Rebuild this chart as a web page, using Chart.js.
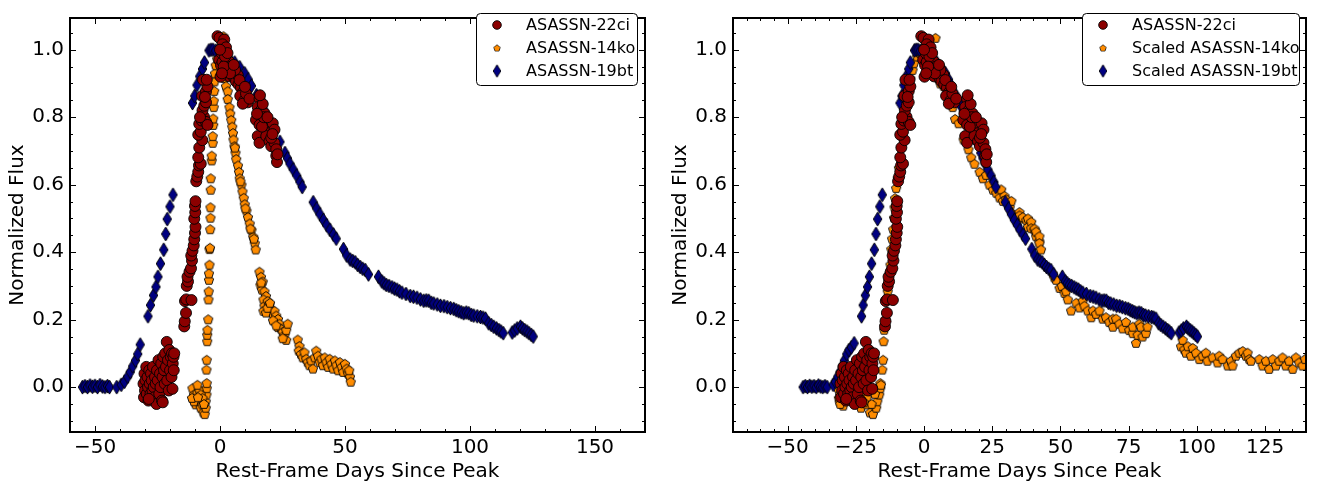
<!DOCTYPE html>
<html>
<head>
<meta charset="utf-8">
<script src="https://cdn.jsdelivr.net/npm/chart.js@4.4.1/dist/chart.umd.min.js"></script>
<style>
  html, body { margin: 0; padding: 0; background: #fff; }
  #wrap { position: relative; width: 1317px; height: 485px; }
  canvas { position: absolute; top: 0; }
  #chart1 { left: 0; }
  #chart2 { left: 660px; }
</style>
</head>
<body>
<div id="wrap">
  <canvas id="chart1" width="660" height="485"></canvas>
  <canvas id="chart2" width="657" height="485"></canvas>
</div>
<script>
// ASASSN-22ci (same in both panels) [rest-frame day, normalized flux]
const ci22 = [
  [-30.6,0.01],[-30.4,-0.03],[-30.2,0.04],[-30.0,-0.01],[-29.8,0.02],[-29.5,0.06],[-29.3,-0.02],[-29.0,0.03],
  [-28.8,0.0],[-28.6,-0.04],[-28.3,0.05],[-28.1,0.01],[-27.8,-0.02],[-27.6,0.04],[-27.3,0.02],[-27.0,-0.01],
  [-26.8,0.06],[-26.5,0.0],[-26.2,-0.03],[-26.0,0.03],[-25.7,0.01],[-25.4,-0.05],[-25.2,0.05],[-24.9,0.02],
  [-24.6,0.08],[-24.3,-0.02],[-24.0,0.04],[-23.8,0.0],[-23.5,0.07],[-23.2,-0.04],[-23.0,0.03],[-22.7,0.09],
  [-22.4,0.05],[-22.1,0.01],[-21.9,0.1],[-21.6,0.06],[-21.3,0.134],[-21.1,0.02],[-20.8,0.08],[-20.5,-0.01],
  [-20.3,0.11],[-20.0,0.05],[-19.7,0.09],[-19.4,0.03],[-19.2,0.1],[-18.9,0.07],[-18.6,0.09],[-18.3,0.1],
  [-18.5,0.05],[-19.0,-0.005],[-22.9,-0.045],[-28.5,-0.035],
  [-14.3,0.18],[-14.1,0.195],[-13.6,0.22],[-14.0,0.255],[-13.5,0.26],[-11.4,0.258],[-13.3,0.30],[-12.8,0.313],
  [-13.0,0.327],[-12.2,0.342],[-11.6,0.352],[-11.2,0.375],[-11.5,0.39],[-11.0,0.404],[-10.5,0.42],[-10.3,0.438],
  [-10.0,0.457],[-9.8,0.475],[-10.3,0.499],[-9.9,0.518],[-10.0,0.537],[-9.8,0.551],[-9.5,0.61],[-9.1,0.624],
  [-8.7,0.638],[-8.4,0.657],[-7.7,0.662],[-8.7,0.681],[-8.3,0.71],[-7.1,0.732],[-8.7,0.748],[-7.7,0.757],
  [-8.3,0.78],[-7.3,0.79],[-6.4,0.801],[-5.6,0.786],[-5.0,0.777],[-7.0,0.82],[-6.3,0.834],[-5.6,0.844],
  [-7.2,0.863],[-5.6,0.877],[-5.0,0.891],[-6.8,0.911],[-5.3,0.911],[-6.0,0.86],[-8.0,0.80],
  [-1.0,1.04],[-0.2,1.035],[1.7,1.03],[1.0,1.016],[2.4,1.007],[-0.3,0.97],[0.4,0.954],[1.0,0.964],
  [0.6,0.99],[2.4,0.959],[3.1,0.945],[3.7,0.964],[4.4,0.95],[5.1,0.935],[3.7,0.921],[5.7,0.916],
  [6.4,0.906],[7.1,0.925],[7.4,0.897],[8.4,0.887],[9.1,0.873],[8.1,0.863],[9.7,0.849],[11.1,0.844],
  [9.1,0.84],[10.4,0.87],[6.0,0.94],[2.0,0.98],[4.0,0.93],[7.8,0.91],[1.5,0.95],[3.0,0.99],
  [10.0,0.89],[11.8,0.855],[5.5,0.955],[0.0,1.0],[0.2,0.92],[0.8,0.93],
  [15.8,0.854],[15.1,0.83],[16.4,0.82],[14.4,0.792],[15.8,0.777],[15.1,0.744],[15.8,0.724],[17.8,0.811],
  [18.5,0.792],[19.1,0.772],[19.8,0.753],[21.1,0.782],[21.8,0.763],[18.5,0.744],[19.8,0.729],[20.5,0.714],
  [21.8,0.724],[22.5,0.705],[22.5,0.686],[22.8,0.667],[17.1,0.839],[16.8,0.772],[20.5,0.739],[16.0,0.865],
  [17.5,0.8],[14.8,0.81],[19.0,0.8],[21.0,0.75],[23.0,0.69]
];

// ASASSN-14ko, left panel
const ko14Left = [
  [-11.0,-0.003],[-10.4,-0.022],[-9.7,-0.032],[-9.0,-0.017],[-8.3,-0.007],[-9.7,-0.051],[-8.3,-0.042],[-7.7,-0.061],
  [-7.0,-0.051],[-6.6,-0.075],[-6.1,-0.08],[-5.7,-0.061],[-5.7,-0.042],[-5.4,-0.022],[-5.3,-0.003],[-5.3,0.012],
  [-7.7,-0.022],[-10.4,-0.042],[-9.0,0.007],[-11.2,-0.032],[-7.0,-0.032],[-8.8,-0.03],[-6.4,-0.05],
  [-5.4,0.052],[-5.3,0.081],[-5.1,0.136],[-5.1,0.155],[-5.0,0.17],[-4.7,0.201],[-4.6,0.26],[-4.5,0.284],
  [-4.4,0.318],[-4.4,0.337],[-4.2,0.363],[-4.2,0.409],[-4.0,0.413],[-3.9,0.468],[-3.8,0.502],[-3.8,0.533],
  [-3.7,0.585],[-3.7,0.619],[-3.3,0.672],[-3.3,0.686],[-2.9,0.724],[-2.9,0.744],[-2.7,0.777],[-2.7,0.796],
  [-2.5,0.83],[-2.5,0.849],[-2.3,0.878],[-2.2,0.906],[-2.0,0.93],[-1.7,0.954],[-1.1,0.973],
  [1.0,0.94],[1.7,0.916],[2.4,0.892],[3.1,0.877],[3.1,0.854],[3.8,0.83],[4.1,0.811],[4.5,0.792],
  [4.9,0.772],[5.2,0.753],[5.4,0.734],[5.8,0.714],[6.2,0.695],[6.5,0.676],[7.2,0.657],[7.6,0.638],
  [7.9,0.619],[8.6,0.6],[9.0,0.58],[9.5,0.561],[9.9,0.542],[10.6,0.523],[11.2,0.504],[11.9,0.485],
  [12.6,0.466],[13.3,0.446],[13.9,0.427],[14.3,0.408],[0.3,0.96],[1.4,1.04],[2.0,0.93],[6.0,0.71],
  [8.2,0.61],[10.2,0.53],[12.2,0.47],[13.6,0.44],
  [15.8,0.342],[16.4,0.327],[17.1,0.313],[16.2,0.303],[16.8,0.289],[17.8,0.284],[18.4,0.27],[17.4,0.26],
  [17.8,0.241],[19.1,0.255],[19.8,0.246],[20.5,0.231],[21.2,0.217],[21.8,0.226],[22.5,0.212],[23.2,0.202],
  [23.8,0.188],[23.2,0.178],[24.5,0.173],[25.1,0.164],[25.8,0.154],[26.5,0.169],[27.1,0.188],[26.5,0.14],
  [25.1,0.145],[17.4,0.226],[18.4,0.221],[21.2,0.198],[22.5,0.183],[19.0,0.235],[20.0,0.25],[16.5,0.31],
  [31.1,0.141],[31.8,0.122],[31.5,0.108],[32.4,0.098],[33.1,0.088],[33.8,0.103],[34.5,0.084],[35.1,0.074],
  [35.8,0.065],[36.5,0.079],[37.2,0.055],[37.9,0.088],[38.5,0.108],[39.2,0.093],[39.9,0.074],[40.6,0.084],
  [41.2,0.065],[41.9,0.088],[42.6,0.074],[43.3,0.06],[43.9,0.084],[44.6,0.069],[45.3,0.055],[46.0,0.079],
  [46.6,0.065],[47.3,0.05],[48.0,0.074],[48.7,0.06],[49.3,0.045],[50.0,0.069],[50.7,0.055],[51.3,0.04],
  [52.0,0.031],[52.3,0.016],[51.7,0.05]
];

// ASASSN-19bt, left panel
const bt19Left = [
  [-55,0.0],[-54,0.003],[-53,0.0],[-52,0.005],[-51,0.001],[-50,0.004],[-49,0.0],[-48,0.006],
  [-47,0.002],[-46,0.0],[-45,0.003],[-44.2,0.0],
  [-41.3,0.0],[-39.5,0.007],[-38.2,0.016],[-36.9,0.031],[-35.9,0.045],[-34.9,0.062],[-33.8,0.079],[-32.9,0.098],[-31.9,0.126],
  [-28.8,0.21],[-27.8,0.243],[-26.6,0.272],[-25.6,0.297],[-24.8,0.327],[-23.8,0.366],[-22.5,0.407],[-21.7,0.454],
  [-21.1,0.498],[-20.0,0.535],[-18.8,0.57],
  [-11.0,0.842],[-10.1,0.863],[-9.2,0.895],[-8.1,0.921],[-7.0,0.943],[-6.2,0.962],[-4.4,0.998],[-3.6,1.0],[-2.8,1.0],[-1.7,0.997],
  [0.6,0.99],[1.9,0.983],[3.9,0.972],[5.9,0.962],[7.9,0.948],[9.9,0.93],[11.3,0.912],[12.6,0.893],[14.6,0.865],
  [16.6,0.836],[18.0,0.817],[20.0,0.789],[22.0,0.76],[24.0,0.727],[26.0,0.694],[27.0,0.678],[28.0,0.662],
  [29.3,0.645],[30.7,0.627],[32.0,0.608],[32.9,0.593],
  [37.3,0.548],[38.7,0.529],[40.0,0.512],[41.4,0.495],[42.7,0.48],[44.0,0.466],[45.4,0.452],[46.5,0.44],
  [49.4,0.409],[50.7,0.39],[52.1,0.378],[53.1,0.374],[54.1,0.37],[55.1,0.362],[56.1,0.356],[57.1,0.351],[58.1,0.347],[59.4,0.334],
  [63.4,0.327],[64.8,0.313],[65.6,0.308],[66.5,0.303],[67.6,0.3],[68.8,0.296],[69.8,0.292],[70.8,0.289],[71.8,0.284],[72.8,0.28],[74.4,0.276],
  [76.1,0.27],[77.4,0.268],[78.8,0.265],[80.2,0.26],[81.5,0.256],[82.5,0.257],[83.5,0.256],[84.5,0.25],[85.5,0.248],[86.9,0.245],[88.2,0.241],[89.6,0.24],[90.9,0.237],
  [92.2,0.234],[93.5,0.232],[94.5,0.228],[95.5,0.225],[96.5,0.222],[97.5,0.219],[98.5,0.221],[99.5,0.219],[100.5,0.214],[101.5,0.212],[102.9,0.21],[104.2,0.208],[105.2,0.206],[106.2,0.203],
  [107.5,0.189],[108.5,0.184],[109.5,0.179],[110.6,0.174],[111.6,0.169],[112.4,0.165],[113.3,0.16],
  [116.9,0.162],[117.9,0.168],[118.9,0.174],[120.2,0.179],[121.0,0.174],[121.9,0.169],[122.8,0.165],[123.6,0.16],[124.5,0.155],[125.3,0.15]
];

// Scaled ASASSN-14ko, right panel
const ko14Right = [
  [-31.5,-0.003],[-30.8,-0.022],[-29.1,-0.032],[-27.0,-0.017],[-24.9,-0.007],[-29.6,-0.055],[-24.9,-0.042],[-23.1,-0.061],
  [-21.0,-0.051],[-19.8,-0.075],[-18.7,-0.08],[-17.5,-0.061],[-17.1,-0.042],[-16.4,-0.022],[-16.0,-0.003],[-16.0,0.012],
  [-23.1,-0.022],[-30.9,-0.042],[-27.0,0.007],[-31.2,-0.032],[-21.0,-0.032],[-26.4,-0.03],[-19.2,-0.05],[-30.7,-0.05],
  [-22.0,-0.045],[-18.0,-0.02],
  [-15.8,0.007],[-15.3,0.052],[-15.0,0.081],[-14.8,0.136],[-14.6,0.17],[-14.1,0.201],[-13.6,0.26],[-13.3,0.284],
  [-12.9,0.318],[-12.6,0.337],[-12.3,0.363],[-12.0,0.409],[-11.7,0.44],[-11.3,0.468],[-11.0,0.502],[-10.8,0.533],
  [-10.6,0.56],[-10.2,0.59],[-9.6,0.62],[-9.2,0.65],[-8.8,0.68],[-8.4,0.71],[-8.0,0.744],[-7.6,0.777],
  [-7.2,0.8],[-6.8,0.83],[-6.3,0.86],[-5.6,0.89],[-5.0,0.915],[-4.2,0.94],[-3.7,0.96],[-2.5,0.98],[-1.5,0.99],
  [0.5,0.97],[1.5,0.955],[3.0,0.94],[4.2,1.035],[5.1,0.916],[6.0,0.9],[7.2,0.892],[8.5,0.87],
  [9.3,0.854],[10.5,0.83],[11.4,0.795],[12.7,0.782],[14.5,0.734],[16.3,0.705],[17.3,0.681],[18.5,0.662],
  [20.4,0.638],[21.6,0.619],[22.8,0.629],[24.0,0.6],[25.3,0.585],[26.5,0.576],[27.7,0.562],[28.3,0.586],
  [29.5,0.567],[28.9,0.552],[30.1,0.557],[31.4,0.533],[32.0,0.552],[32.6,0.514],[33.8,0.509],[35.0,0.519],
  [35.0,0.509],[36.2,0.5],[36.2,0.504],[37.5,0.495],[38.1,0.5],[38.1,0.475],[39.3,0.49],[39.3,0.471],
  [40.5,0.466],[40.5,0.47],[41.1,0.447],[41.1,0.461],[42.3,0.432],[42.3,0.447],[42.3,0.427],[42.9,0.408],
  [47.2,0.337],[47.8,0.325],[48.4,0.318],[49.7,0.294],[50.5,0.3],[51.5,0.279],[52.1,0.284],[52.7,0.26],
  [53.9,0.227],[55.8,0.25],[57.0,0.236],[58.2,0.256],[58.8,0.241],[60.0,0.227],[61.3,0.207],[61.9,0.227],
  [63.1,0.217],[64.3,0.227],[65.5,0.203],[66.7,0.207],[67.9,0.193],[69.2,0.179],[69.2,0.203],[70.4,0.203],
  [71.6,0.188],[72.8,0.174],[74.0,0.193],[75.2,0.169],[76.5,0.16],[76.5,0.179],[77.7,0.131],[78.3,0.155],
  [78.9,0.188],[79.5,0.179],[80.1,0.15],[81.3,0.16],[81.9,0.179],
  [94.2,0.121],[94.8,0.14],[95.4,0.112],[96.0,0.102],[96.7,0.121],[97.8,0.093],[98.5,0.116],[99.7,0.102],
  [100.9,0.083],[102.1,0.093],[103.3,0.102],[103.9,0.078],[105.8,0.088],[107.6,0.073],[108.2,0.093],[109.4,0.083],
  [111.3,0.064],[112.5,0.078],[113.1,0.064],[114.3,0.093],[115.6,0.102],[116.8,0.107],[118.0,0.093],[118.6,0.102],
  [119.2,0.083],[119.8,0.078],[122.9,0.083],[124.1,0.064],[125.3,0.078],[126.5,0.054],[127.8,0.083],[129.0,0.064],
  [130.2,0.078],[131.4,0.088],[132.6,0.064],[133.8,0.078],[135.1,0.054],[136.3,0.088],[137.5,0.073],[138.7,0.064],
  [139.7,0.083]
];

// Scaled ASASSN-19bt, right panel
const bt19Right = [
  [-44.3,0.0],[-43.5,0.003],[-42.7,0.0],[-41.9,0.004],[-41.1,0.001],[-40.3,0.003],[-39.5,0.0],[-38.7,0.005],
  [-37.9,0.002],[-37.1,0.0],[-36.3,0.003],[-35.5,0.0],
  [-33.3,0.007],[-32.5,0.016],[-31.6,0.031],[-30.8,0.045],[-30.0,0.062],[-29.2,0.079],[-28.3,0.098],[-27.5,0.11],
  [-26.6,0.118],[-25.6,0.13],
  [-22.9,0.21],[-22.3,0.243],[-21.5,0.272],[-20.7,0.297],[-20.0,0.327],[-19.2,0.366],[-18.2,0.407],[-17.6,0.454],
  [-17.0,0.498],[-16.2,0.535],[-15.3,0.57],
  [-8.8,0.842],[-8.1,0.863],[-7.4,0.895],[-6.5,0.921],[-5.6,0.943],[-5.0,0.962],[-3.5,0.998],[-2.9,1.0],[-2.2,1.0],[-1.4,0.997],
  [0.5,0.99],[1.5,0.983],[3.1,0.972],[4.7,0.962],[6.3,0.948],[7.9,0.93],[9.0,0.912],[10.1,0.893],[11.7,0.865],
  [13.3,0.836],[14.4,0.817],[16.0,0.789],[17.6,0.76],[19.2,0.727],[20.8,0.694],[21.6,0.678],[22.4,0.662],
  [23.4,0.645],[24.6,0.627],[25.6,0.608],[26.3,0.593],
  [29.8,0.548],[31.0,0.529],[32.0,0.512],[33.1,0.495],[34.2,0.48],[35.2,0.466],[36.3,0.452],[37.2,0.44],
  [39.5,0.409],[40.6,0.39],[41.7,0.378],[42.5,0.374],[43.3,0.37],[44.1,0.362],[44.9,0.356],[45.7,0.351],[46.5,0.347],[47.5,0.334],
  [50.7,0.327],[51.8,0.313],[52.5,0.308],[53.2,0.303],[54.1,0.3],[55.0,0.296],[55.8,0.292],[56.6,0.289],[57.4,0.284],[58.2,0.28],[59.5,0.276],
  [60.9,0.27],[62.0,0.268],[63.0,0.265],[64.2,0.26],[65.2,0.256],[66.0,0.257],[66.8,0.256],[67.6,0.25],[68.4,0.248],[69.5,0.245],[70.6,0.241],[71.7,0.24],[72.7,0.237],
  [73.8,0.234],[74.8,0.232],[75.6,0.228],[76.4,0.225],[77.2,0.222],[78.0,0.219],[78.8,0.221],[79.6,0.219],[80.4,0.214],[81.2,0.212],[82.3,0.21],[83.4,0.208],[84.2,0.206],[85.0,0.203],
  [86.0,0.189],[86.8,0.184],[87.6,0.179],[88.5,0.174],[89.3,0.169],[89.9,0.165],[90.6,0.16],
  [93.5,0.162],[94.3,0.168],[95.1,0.174],[96.2,0.179],[96.8,0.174],[97.5,0.169],[98.2,0.165],[98.9,0.16],[99.6,0.155],[100.2,0.15]
];

// tick labels
const xTicksLeft = [-50, 0, 50, 100, 150];
const xTicksRight = [-50, -25, 0, 25, 50, 75, 100, 125];
const yTicks = [0.0, 0.2, 0.4, 0.6, 0.8, 1.0];

const FONT = "'DejaVu Sans', sans-serif";

// matplotlib-like marker images
function makePentagon() {
  const c = document.createElement('canvas');
  c.width = 12; c.height = 12;
  const g = c.getContext('2d');
  g.beginPath();
  for (let k = 0; k < 5; k++) {
    const a = -Math.PI / 2 + k * 2 * Math.PI / 5;
    const px = 6 + 4.9 * Math.cos(a), py = 6.4 + 4.9 * Math.sin(a);
    if (k === 0) g.moveTo(px, py); else g.lineTo(px, py);
  }
  g.closePath();
  g.fillStyle = '#ff8c00'; g.fill();
  g.strokeStyle = '#000'; g.lineWidth = 0.9; g.stroke();
  return c;
}
function makeDiamond() {
  const c = document.createElement('canvas');
  c.width = 11; c.height = 16;
  const g = c.getContext('2d');
  g.beginPath();
  g.moveTo(5.5, 1); g.lineTo(9.8, 8); g.lineTo(5.5, 15); g.lineTo(1.2, 8);
  g.closePath();
  g.fillStyle = '#000080'; g.fill();
  g.strokeStyle = '#000'; g.lineWidth = 0.9; g.stroke();
  return c;
}
const pentagon = makePentagon();
const diamond = makeDiamond();

const toXY = arr => arr.map(p => ({x: p[0], y: p[1]}));
const fmtX = v => v < 0 ? '\u2212' + Math.abs(v) : String(v);

// frame, inward ticks on all sides, and the boxed legend
const framePlugin = {
  id: 'frame',
  afterDatasetsDraw(chart, args, opts) {
    const {ctx, chartArea: a, scales: {x, y}} = chart;
    ctx.save();
    ctx.strokeStyle = '#000';
    ctx.lineWidth = 1;
    ctx.beginPath();
    const xt = (v, len) => {
      const p = Math.round(x.getPixelForValue(v)) + 0.5;
      ctx.moveTo(p, a.bottom); ctx.lineTo(p, a.bottom - len);
      ctx.moveTo(p, a.top); ctx.lineTo(p, a.top + len);
    };
    const yt = (v, len) => {
      const p = Math.round(y.getPixelForValue(v)) + 0.5;
      ctx.moveTo(a.left, p); ctx.lineTo(a.left + len, p);
      ctx.moveTo(a.right, p); ctx.lineTo(a.right - len, p);
    };
    for (let v = Math.ceil(x.min / opts.xMinor) * opts.xMinor; v <= x.max; v += opts.xMinor) xt(v, 3);
    for (let i = -2; i <= 21; i++) { const v = i * 0.05; if (v > y.min && v < y.max) yt(v, 3); }
    x.ticks.forEach(t => xt(t.value, 6));
    y.ticks.forEach(t => yt(t.value, 6));
    ctx.stroke();
    ctx.lineWidth = 2;
    ctx.strokeRect(a.left, a.top, a.right - a.left, a.bottom - a.top);
    ctx.restore();
  },
  afterDraw(chart, args, opts) {
    const ctx = chart.ctx;
    const L = opts.legend;
    ctx.save();
    ctx.beginPath();
    ctx.roundRect(L.x0 + 0.5, L.y0 + 0.5, L.x1 - L.x0, L.y1 - L.y0, 4);
    ctx.fillStyle = '#fff';
    ctx.fill();
    ctx.strokeStyle = '#000';
    ctx.lineWidth = 1;
    ctx.stroke();
    ctx.font = '16px ' + FONT;
    ctx.textBaseline = 'middle';
    L.labels.forEach((lab, i) => {
      const cy = L.rows[i];
      if (i === 0) {
        ctx.beginPath();
        ctx.arc(L.mx, cy, 4.3, 0, Math.PI * 2);
        ctx.fillStyle = '#8b0000'; ctx.fill();
        ctx.strokeStyle = '#000'; ctx.lineWidth = 0.9; ctx.stroke();
      } else {
        const img = i === 1 ? pentagon : diamond;
        const s = i === 1 ? 0.7 : 0.9;
        ctx.drawImage(img, L.mx - img.width * s / 2, cy - img.height * s / 2, img.width * s, img.height * s);
      }
      ctx.fillStyle = '#000';
      ctx.fillText(lab, L.tx, cy + 1);
    });
    ctx.restore();
  }
};

function makeChart(id, cfg) {
  const ctx = document.getElementById(id).getContext('2d');
  return new Chart(ctx, {
    type: 'scatter',
    data: {
      datasets: [{
        label: cfg.names[0],
        data: toXY(ci22),
        pointStyle: 'circle',
        pointRadius: 5.5,
        backgroundColor: '#8b0000',
        borderColor: '#000',
        borderWidth: 0.9,
        order: 0
      }, {
        label: cfg.names[1],
        data: toXY(cfg.ko14),
        pointStyle: pentagon,
        pointRadius: 4,
        order: 2
      }, {
        label: cfg.names[2],
        data: toXY(cfg.bt19),
        pointStyle: diamond,
        pointRadius: 5,
        order: 1
      }]
    },
    options: {
      responsive: false,
      animation: false,
      devicePixelRatio: 1,
      events: [],
      layout: { padding: { top: 5, right: cfg.padRight, left: 0, bottom: 0 } },
      plugins: {
        legend: { display: false },
        tooltip: { enabled: false },
        frame: { xMinor: cfg.xMinor, legend: cfg.legend }
      },
      scales: {
        x: {
          type: 'linear',
          min: cfg.xMin,
          max: cfg.xMax,
          grid: { display: false, drawTicks: false },
          border: { display: false },
          afterBuildTicks: s => { s.ticks = cfg.xTicks.map(v => ({value: v})); },
          afterFit: s => { s.height = 53; },
          ticks: {
            color: '#000', font: { family: FONT, size: 20 }, padding: 4,
            autoSkip: false, maxRotation: 0, callback: v => fmtX(v)
          },
          title: {
            display: true, text: 'Rest-Frame Days Since Peak', color: '#000',
            font: { family: FONT, size: 20 }, padding: { top: 0, bottom: 1 }
          }
        },
        y: {
          type: 'linear',
          min: -0.133,
          max: 1.094,
          grid: { display: false, drawTicks: false },
          border: { display: false },
          afterBuildTicks: s => { s.ticks = yTicks.map(v => ({value: v})); },
          afterFit: s => { s.width = cfg.yWidth; },
          ticks: {
            color: '#000', font: { family: FONT, size: 20 }, padding: 6,
            autoSkip: false, callback: v => v.toFixed(1)
          },
          title: {
            display: true, text: 'Normalized Flux', color: '#000',
            font: { family: FONT, size: 20 }, padding: { top: cfg.titlePad, bottom: 0 }
          }
        }
      }
    },
    plugins: [framePlugin]
  });
}

makeChart('chart1', {
  names: ['ASASSN-22ci', 'ASASSN-14ko', 'ASASSN-19bt'],
  ko14: ko14Left, bt19: bt19Left,
  xMin: -60, xMax: 170, xTicks: xTicksLeft, xMinor: 10,
  yWidth: 70, padRight: 15, titlePad: 6,
  legend: { x0: 476, y0: 13, x1: 637, y1: 85, mx: 497, tx: 526, rows: [25, 48, 71],
            labels: ['ASASSN-22ci', 'ASASSN-14ko', 'ASASSN-19bt'] }
});

makeChart('chart2', {
  names: ['ASASSN-22ci', 'Scaled ASASSN-14ko', 'Scaled ASASSN-19bt'],
  ko14: ko14Right, bt19: bt19Right,
  xMin: -70, xMax: 140, xTicks: xTicksRight, xMinor: 5,
  yWidth: 73, padRight: 11, titlePad: 9,
  legend: { x0: 422, y0: 13, x1: 639, y1: 85, mx: 443, tx: 472, rows: [25, 48, 71],
            labels: ['ASASSN-22ci', 'Scaled ASASSN-14ko', 'Scaled ASASSN-19bt'] }
});
</script>
</body>
</html>
